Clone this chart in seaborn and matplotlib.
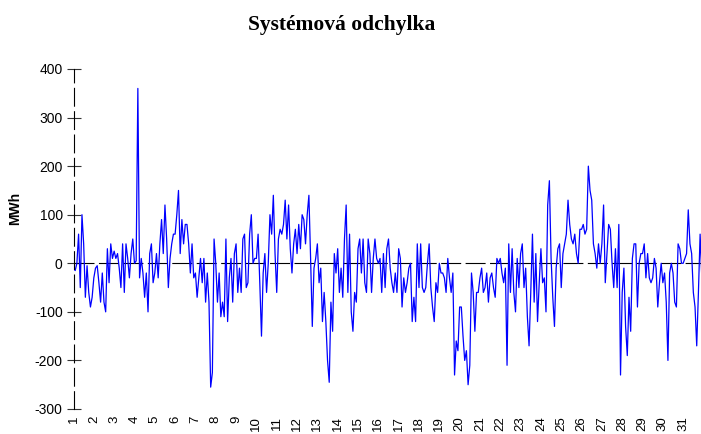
import matplotlib
matplotlib.use("Agg")
import matplotlib.pyplot as plt
import numpy as np
import pandas as pd
import seaborn as sns

# system imbalance, one value every 2 hours, 12 per day
day01 = [-10, -15, 0, 60, -50, 100, 40, -70, -5, -60, -90, -70]
day02 = [-30, -10, -5, -40, -80, -20, -80, -100, 30, -40, 40, 10]
day03 = [25, 10, 20, -10, -50, 40, -60, 40, 10, -30, 20, 50]
day04 = [0, 5, 360, -30, 10, -20, -70, -20, -100, 20, 40, -40]
day05 = [-20, 20, -30, 40, 90, 20, 120, 50, -50, 10, 40, 60]
day06 = [60, 100, 150, 20, 90, 40, 80, 80, 40, -20, 40, -30]
day07 = [-20, -70, -30, 10, -40, 10, -80, -20, -80, -255, -225, 50]
day08 = [0, -80, -20, -110, -80, -110, 50, -120, -30, 10, -80, 20]
day09 = [40, -60, -10, -60, 50, 60, -50, -40, 60, 100, 0, 10]
day10 = [10, 60, -40, -150, -20, 20, -60, 0, 100, 60, 140, 20]
day11 = [-60, 50, 70, 60, 80, 130, 50, 120, 30, -20, 40, 70]
day12 = [20, 80, 30, 100, 90, 40, 100, 140, 10, -130, -10, 10]
day13 = [40, -40, -10, -120, -60, -120, -200, -245, -80, -140, 20, -20]
day14 = [30, -60, -10, -70, 50, 120, -60, 60, -100, -140, -60, -80]
day15 = [30, 50, -20, 50, -40, -60, 50, 20, -60, 10, 50, 10]
day16 = [0, 10, -60, 20, -50, 30, 50, -10, -40, -60, -20, -60]
day17 = [30, 10, -90, -30, -60, -40, -10, 0, -120, -70, -120, 40]
day18 = [-50, 40, -50, -60, -50, 0, 40, -50, -90, -120, -40, -60]
day19 = [0, -20, -20, -30, -60, 10, -30, -60, -20, -230, -160, -180]
day20 = [-90, -90, -150, -200, -180, -250, -210, -20, -60, -140, -60, -60]
day21 = [-30, -10, -60, -50, -20, -80, -30, -20, -50, -70, 10, 0]
day22 = [10, -20, -40, -10, -210, 40, -60, 30, -60, -100, 10, -50]
day23 = [20, 40, -50, -10, -110, -170, -60, 60, -80, 20, -120, -40]
day24 = [30, -40, -30, -100, 120, 170, 10, -70, -130, -10, 30, 40]
day25 = [-50, 20, 40, 60, 130, 80, 50, 40, 60, 20, 0, 70]
day26 = [70, 80, 60, 70, 200, 150, 130, 40, 20, -10, 40, 0]
day27 = [40, 120, -40, 20, 80, 70, 0, -50, 30, -50, 80, -230]
day28 = [-60, -10, -130, -190, -70, -140, 10, 40, 40, -90, 0, 20]
day29 = [20, 40, -30, 20, -30, -40, -30, 10, -10, -90, -40, 0]
day30 = [-40, -20, -80, -200, -20, 0, -20, -80, -90, 40, 30, 0]
day31 = [0, 10, 20, 110, 40, 20, -60, -90, -170, -60, 60, -30]

days = [day01, day02, day03, day04, day05, day06, day07, day08, day09, day10,
        day11, day12, day13, day14, day15, day16, day17, day18, day19, day20,
        day21, day22, day23, day24, day25, day26, day27, day28, day29, day30, day31]
day_labels = [str(d) for d in range(1, 32)]
y_ticks = [-300, -200, -100, 0, 100, 200, 300, 400]

values = np.concatenate(days)
hours = np.arange(len(values)) * 2
df = pd.DataFrame({"hour": hours, "MWh": values})

sns.set_style("white")
plt.rcParams['font.family'] = ['Liberation Sans', 'DejaVu Sans']
plt.rcParams['axes.unicode_minus'] = False

fig = plt.figure(figsize=(7.01, 4.34), dpi=100)
# axes spans 744 hours, slightly past the right edge like the original
ax = fig.add_axes([73.5 / 701, 25 / 434, 630 / 701, 340 / 434])

ax.axhline(0, color='black', lw=0.8, dashes=(18, 4), zorder=1)
sns.lineplot(data=df, x="hour", y="MWh", color='blue', lw=0.9, ax=ax, zorder=2)

ax.set_xlim(0, 744)
ax.set_ylim(-300, 400)
ax.set_yticks(y_ticks)
ax.set_xticks(np.arange(31) * 24, labels=day_labels, rotation=90)

for s in ['top', 'right', 'bottom']:
    ax.spines[s].set_visible(False)
ax.spines['left'].set_linestyle((0, (16, 5)))
ax.spines['left'].set_linewidth(0.8)
ax.spines['left'].set_color('black')

ax.tick_params(axis='y', direction='inout', length=9.5, width=0.8, color='#333333',
               labelsize=10, labelcolor='black', pad=3, left=True)
ax.tick_params(axis='x', length=0, labelsize=9.5, labelcolor='black', pad=5)

ax.set_xlabel("")
ax.set_ylabel("")
fig.text(15 / 701, 1 - 208 / 434, "MWh", rotation=90, ha='center', va='center',
         fontsize=10, fontweight='bold', color='black')
fig.text(342 / 701, 1 - 25 / 434, "Systémová odchylka", family='Liberation Serif',
         fontweight='bold', fontsize=15.5, ha='center', va='center', color='black')

plt.savefig("out.png", dpi=100)
